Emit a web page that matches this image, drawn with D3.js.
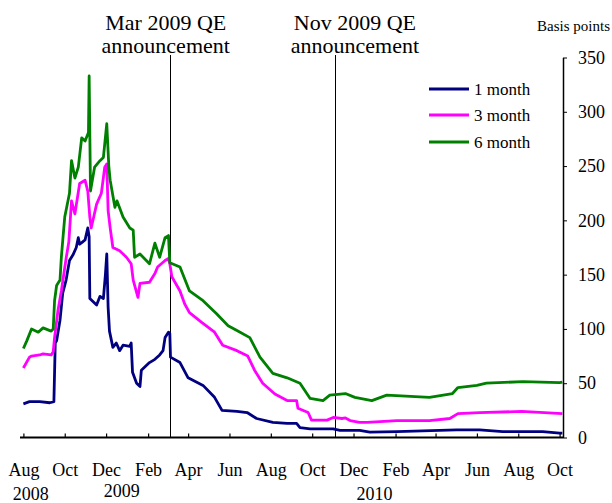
<!DOCTYPE html>
<meta charset="utf-8">
<script src="https://d3js.org/d3.v7.min.js"></script>
<style>
  body { margin: 0; background: #ffffff; }
  svg text { font-family: "Liberation Serif", "Times New Roman", serif; fill: #000; }
</style>
<body>
<div id="my_dataviz"></div>
<script>

// ---- data (basis points) ----
var oneMonthDates = ["2008-08-01","2008-08-10","2008-08-25","2008-09-09","2008-09-15","2008-09-17","2008-09-19","2008-09-24","2008-09-28","2008-10-03","2008-10-08","2008-10-13","2008-10-18","2008-10-21","2008-10-23","2008-10-27","2008-10-31","2008-11-04","2008-11-06","2008-11-07","2008-11-12","2008-11-17","2008-11-22","2008-11-27","2008-11-30","2008-12-02","2008-12-04","2008-12-06","2008-12-11","2008-12-16","2008-12-21","2008-12-26","2009-01-05","2009-01-07","2009-01-09","2009-01-15","2009-01-20","2009-01-22","2009-02-03","2009-02-11","2009-02-18","2009-02-23","2009-02-26","2009-03-03","2009-03-05","2009-03-06","2009-03-20","2009-04-01","2009-04-23","2009-05-10","2009-05-21","2009-06-12","2009-06-27","2009-07-11","2009-08-04","2009-08-25","2009-09-08","2009-09-13","2009-09-28","2009-11-01","2009-11-11","2009-12-10","2009-12-25","2010-02-03","2010-05-02","2010-06-05","2010-07-09","2010-09-06","2010-10-01","2010-10-05"];
var oneMonthValues = [31,33,33,32,33,87,89,108,133,145,163,168,175,184,178,180,182,193,185,128,125,122,130,128,150,169,120,98,83,87,80,85,84,87,60,50,47,62,69,72,76,80,92,97,96,74,69,55,48,37,25,24,23,17.5,14,13,13,9,8,8,6.5,6.5,5,5.5,7,7,5.5,5.5,4,4];

var threeMonthDates = ["2008-08-01","2008-08-10","2008-08-13","2008-08-25","2008-08-30","2008-09-11","2008-09-14","2008-09-16","2008-09-21","2008-09-26","2008-10-03","2008-10-07","2008-10-11","2008-10-16","2008-10-23","2008-10-31","2008-11-04","2008-11-07","2008-11-09","2008-11-17","2008-11-24","2008-11-29","2008-12-02","2008-12-04","2008-12-07","2008-12-11","2008-12-21","2008-12-31","2009-01-07","2009-01-10","2009-01-17","2009-01-20","2009-02-03","2009-02-11","2009-02-15","2009-02-26","2009-03-03","2009-03-05","2009-03-08","2009-03-20","2009-03-27","2009-04-03","2009-04-21","2009-05-10","2009-05-22","2009-06-12","2009-06-28","2009-07-08","2009-07-20","2009-08-07","2009-08-25","2009-09-08","2009-09-10","2009-09-25","2009-09-30","2009-10-23","2009-11-01","2009-11-14","2009-11-19","2009-11-26","2009-12-10","2009-12-21","2010-02-03","2010-03-23","2010-04-22","2010-05-04","2010-06-05","2010-08-06","2010-10-05"];
var threeMonthValues = [64,74,75,76,77,76,79,92,117,135,165,180,218,206,234,237,227,203,193,215,225,249,252,209,193,175,172,166,160,145,129,142,143,151,157,163,165,160,148,135,123,115,106,97,85,80,75,62,50,40,34,34,27,23,16,16,18.5,17.5,18,15.6,14,14,15.6,15.6,17.5,22,23,24,22];

var sixMonthDates = ["2008-08-01","2008-08-06","2008-08-13","2008-08-23","2008-08-30","2008-09-11","2008-09-14","2008-09-16","2008-09-19","2008-09-24","2008-09-26","2008-09-28","2008-10-01","2008-10-08","2008-10-11","2008-10-16","2008-10-21","2008-10-26","2008-10-31","2008-11-05","2008-11-06","2008-11-08","2008-11-14","2008-11-22","2008-11-27","2008-12-02","2008-12-05","2008-12-07","2008-12-14","2008-12-17","2008-12-26","2009-01-05","2009-01-10","2009-01-12","2009-01-20","2009-02-03","2009-02-11","2009-02-18","2009-02-26","2009-03-03","2009-03-05","2009-03-20","2009-04-03","2009-04-23","2009-05-13","2009-05-30","2009-06-12","2009-07-01","2009-07-16","2009-08-04","2009-08-25","2009-09-13","2009-09-28","2009-10-17","2009-10-27","2009-11-19","2009-12-03","2009-12-28","2010-01-19","2010-03-23","2010-04-26","2010-05-04","2010-06-01","2010-06-15","2010-08-08","2010-10-01","2010-10-05"];
var sixMonthValues = [82,89,100,97,101,98,100,126,140,145,166,181,203,225,255,239,249,276,273,281,333,227,249,255,258,289,250,237,212,218,203,193,191,166,169,160,179,166,184,186,161,157,135,126,114,103,98.5,92,74,59,55,50,36,34,39,40.5,37,34,39,37,40.5,46,48,50,51.5,50.5,51];

var seriesNames = ["1 month", "3 month", "6 month"];
var seriesColors = ["#000080", "#ff00ff", "#008000"];

var monthTicks = ["2008-08-01","2008-10-01","2008-12-01","2009-02-01","2009-04-01","2009-06-01","2009-08-01","2009-10-01","2009-12-01","2010-02-01","2010-04-01","2010-06-01","2010-08-01","2010-10-01"];
var yearLabels = ["2008", "2009", "2010"];
var yearLabelDates = ["2008-08-12", "2008-12-24", "2010-01-01"];
var yTicks = [0, 50, 100, 150, 200, 250, 300, 350];

var eventDates = ["2009-03-05", "2009-11-04"];
var eventLabelDates = ["2009-02-27", "2009-12-03"];
var eventLines1 = ["Mar 2009 QE", "Nov 2009 QE"];
var eventLines2 = ["announcement", "announcement"];

// ---- layout ----
var width = 612, height = 503;
var plot = {left: 20, right: 563, top: 57.5, bottom: 437.5};
var parse = d3.timeParse("%Y-%m-%d");

var svg = d3.select("#my_dataviz")
  .append("svg")
    .attr("width", width)
    .attr("height", height);

var x = d3.scaleTime()
  .domain([parse("2008-07-27"), parse("2010-10-06")])
  .range([plot.left, plot.right]);

var y = d3.scaleLinear()
  .domain([0, 350])
  .range([plot.bottom, plot.top]);

var series = [
  {dates: oneMonthDates, values: oneMonthValues},
  {dates: threeMonthDates, values: threeMonthValues},
  {dates: sixMonthDates, values: sixMonthValues}
].map(function(s, i) {
  return {
    name: seriesNames[i],
    color: seriesColors[i],
    points: s.dates.map(function(d, j) { return {date: parse(d), value: s.values[j]}; })
  };
});

// event lines (QE announcements)
eventDates.forEach(function(d, i) {
  var ex = Math.round(x(parse(d))) + 0.5;
  var tx = x(parse(eventLabelDates[i]));
  svg.append("line")
    .attr("x1", ex).attr("x2", ex)
    .attr("y1", 55).attr("y2", plot.bottom)
    .attr("stroke", "black")
    .attr("stroke-width", 1);
  svg.append("text")
    .attr("x", tx).attr("y", 30)
    .attr("text-anchor", "middle")
    .style("font-size", "22px")
    .text(eventLines1[i]);
  svg.append("text")
    .attr("x", tx).attr("y", 53)
    .attr("text-anchor", "middle")
    .style("font-size", "22px")
    .text(eventLines2[i]);
});

// series lines
var line = d3.line()
  .x(function(d) { return x(d.date); })
  .y(function(d) { return y(d.value); });

svg.selectAll(".series")
  .data(series)
  .enter()
  .append("path")
    .attr("class", "series")
    .attr("d", function(d) { return line(d.points); })
    .attr("fill", "none")
    .attr("stroke", function(d) { return d.color; })
    .attr("stroke-width", 2.8)
    .attr("stroke-linejoin", "round");

// x axis (ticks point up into the plot)
var xAxis = svg.append("g")
  .attr("transform", "translate(0," + plot.bottom + ")")
  .call(d3.axisBottom(x)
    .tickValues(monthTicks.map(parse))
    .tickSizeInner(-4)
    .tickSizeOuter(0)
    .tickFormat(d3.timeFormat("%b")));
xAxis.select(".domain").attr("stroke", "black").attr("stroke-width", 2)
  .attr("d", "M" + plot.left + ",0H" + plot.right);
xAxis.selectAll(".tick line").attr("stroke", "black").attr("stroke-width", 1.2);
xAxis.selectAll(".tick text")
  .attr("y", 26)
  .style("font-family", "Liberation Serif")
  .style("font-size", "18px");

svg.selectAll(".year")
  .data(yearLabels)
  .enter()
  .append("text")
    .attr("class", "year")
    .attr("x", function(d, i) { return x(parse(yearLabelDates[i])); })
    .attr("y", function(d, i) { return i == 1 ? 497 : 500; })
    .attr("text-anchor", "middle")
    .style("font-size", "18px")
    .text(function(d) { return d; });

// right y axis
var yAxis = svg.append("g")
  .attr("transform", "translate(" + plot.right + ",0)")
  .call(d3.axisRight(y)
    .tickValues(yTicks)
    .tickSizeInner(4)
    .tickSizeOuter(0)
    .tickPadding(11));
yAxis.select(".domain").attr("stroke", "black").attr("stroke-width", 1.5);
yAxis.selectAll(".tick line").attr("stroke", "black");
yAxis.selectAll(".tick text")
  .style("font-family", "Liberation Serif")
  .style("font-size", "18px");

svg.append("text")
  .attr("x", 610).attr("y", 31)
  .attr("text-anchor", "end")
  .style("font-size", "15px")
  .text("Basis points");

// legend
var legend = svg.selectAll(".legend")
  .data(series)
  .enter()
  .append("g")
    .attr("class", "legend")
    .attr("transform", function(d, i) { return "translate(429," + [89, 115, 142][i] + ")"; });
legend.append("line")
  .attr("x1", 0).attr("x2", 40)
  .attr("stroke", function(d) { return d.color; })
  .attr("stroke-width", 2.8);
legend.append("text")
  .attr("x", 45).attr("y", 6)
  .style("font-size", "17px")
  .text(function(d) { return d.name; });

</script>
</body>
